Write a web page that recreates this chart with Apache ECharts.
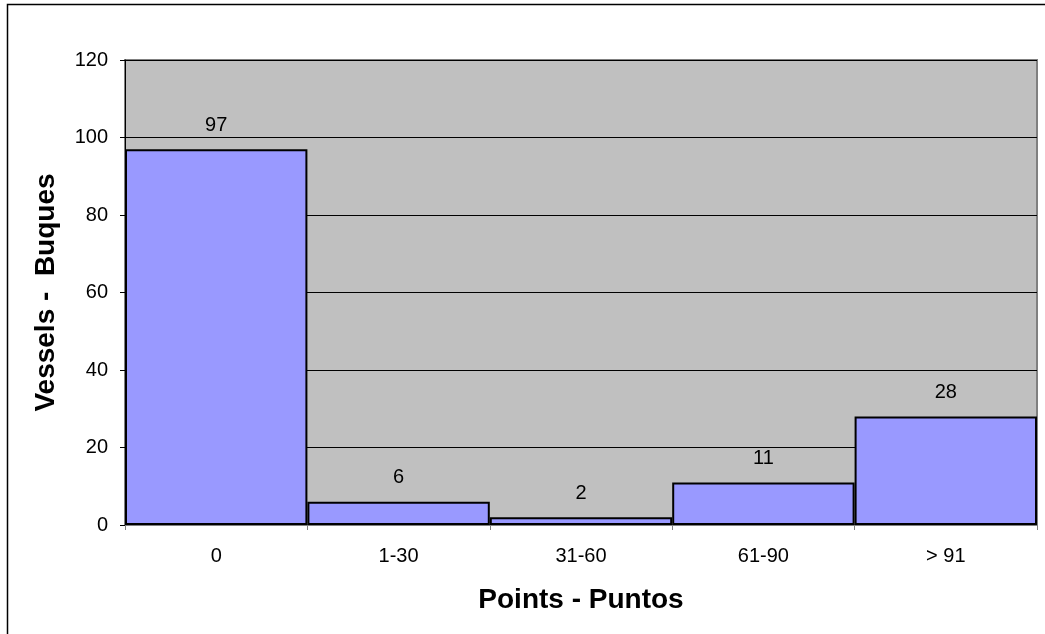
<!DOCTYPE html>
<html>
<head>
<meta charset="utf-8">
<script src="https://cdn.jsdelivr.net/npm/echarts@6/dist/echarts.min.js"></script>
<style>
html,body{margin:0;padding:0;background:#fff;}
#chart{width:1045px;height:634px;}
</style>
</head>
<body>
<div id="chart"></div>
<script>
// Vessels per points bracket
const categories = ['0', '1-30', '31-60', '61-90', '> 91'];
const vessels = [97, 6, 2, 11, 28];
const yMin = 0, yMax = 120, yStep = 20;

const FONT = 'Arial, "Liberation Sans", sans-serif';
const chart = echarts.init(document.getElementById('chart'), null, {renderer: 'canvas'});

chart.setOption({
  backgroundColor: '#ffffff',
  animation: false,
  graphic: [{
    type: 'rect',
    shape: {x: 7.5, y: 4.5, width: 2000, height: 2000},
    style: {fill: 'none', stroke: '#000', lineWidth: 1.5},
    z: -10
  }],
  grid: {
    left: 125, top: 60, right: 8, bottom: 109,
    show: true,
    backgroundColor: '#C0C0C0',
    borderColor: '#808080',
    borderWidth: 2
  },
  xAxis: {
    type: 'category',
    data: categories,
    boundaryGap: true,
    name: 'Points - Puntos',
    nameLocation: 'middle',
    nameGap: 61,
    nameTextStyle: {fontFamily: FONT, fontSize: 28, fontWeight: 'bold', color: '#000'},
    axisLine: {show: true, lineStyle: {color: '#808080', width: 2}},
    axisTick: {show: true, length: 5, lineStyle: {color: '#808080'}},
    axisLabel: {fontFamily: FONT, fontSize: 20, color: '#000', margin: 21},
    splitLine: {show: false}
  },
  yAxis: {
    type: 'value',
    min: yMin, max: yMax, interval: yStep,
    name: 'Vessels -  Buques',
    nameLocation: 'middle',
    nameRotate: 90,
    nameGap: 65,
    nameTextStyle: {fontFamily: FONT, fontSize: 28, fontWeight: 'bold', color: '#000'},
    axisLine: {show: true, lineStyle: {color: '#000', width: 1}},
    axisTick: {show: true, length: 5, lineStyle: {color: '#000'}},
    axisLabel: {fontFamily: FONT, fontSize: 20, color: '#000', margin: 17},
    splitLine: {show: true, lineStyle: {color: '#000', width: 1}}
  },
  series: [{
    type: 'bar',
    data: vessels,
    barCategoryGap: '0%',
    itemStyle: {color: '#9999FF', borderColor: '#000', borderWidth: 2},
    label: {
      show: true, position: 'top', distance: 14,
      fontFamily: FONT, fontSize: 20, color: '#000'
    }
  }]
});
</script>
</body>
</html>
